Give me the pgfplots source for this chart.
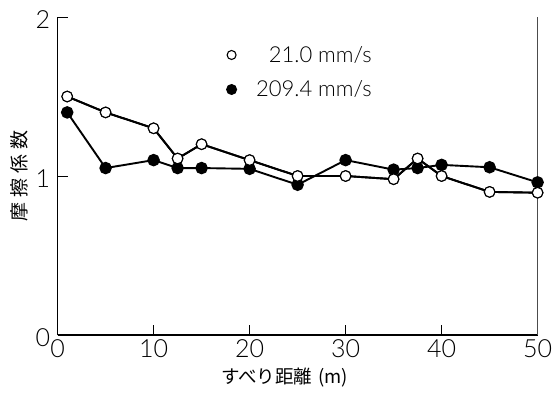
\documentclass[border=0pt]{standalone}
\usepackage{fontspec}
\usepackage{pgfplots}
\pgfplotsset{compat=1.18}
\setmainfont{Lato}[UprightFont={* Light}]
\newfontfamily\jp{Noto Sans CJK JP}

\pgfplotstableread{
x y
1 1.50
5 1.40
10 1.30
12.5 1.11
15 1.20
20 1.10
25 1.00
30 1.00
35 0.98
37.5 1.11
40 1.00
45 0.90
50 0.895
}\slow
\pgfplotstableread{
x y
1 1.40
5 1.05
10 1.10
12.5 1.05
15 1.05
20 1.045
25 0.945
30 1.10
35 1.04
37.5 1.05
40 1.07
45 1.055
50 0.96
}\fast

\begin{document}
\begin{tikzpicture}
\begin{axis}[
  scale only axis, width=480pt, height=318pt,
  xmin=0, xmax=50, ymin=0, ymax=2,
  axis x line*=bottom, axis y line*=left,
  axis line style={line width=1.6pt, black},
  xtick={0,10,...,50}, ytick={0,1,2},
  xtick align=inside, ytick align=inside, major tick length=10pt,
  tick style={line width=0.6pt, black},
  tick label style={font=\fontsize{25}{25}\selectfont},
  /pgf/number format/assume math mode=true,
  xticklabel style={yshift=-1pt},
  yticklabel style={yshift=-3pt, xshift=-4pt},
  xlabel={{\jp すべり距離\hspace{6pt}(m)}},
  xlabel style={font=\fontsize{18.5}{18.5}\selectfont, at={(axis description cs:0.473,-0.135)}, anchor=center},
  ylabel={{\jp 摩\hspace{5pt}擦\hspace{5pt}係\hspace{5pt}数}},
  ylabel style={font=\fontsize{19}{19}\selectfont, at={(axis description cs:-0.0803,0.5)}, anchor=center},
  legend style={draw=none, fill=none, at={(rel axis cs:0.352,0.915)}, anchor=north west,
    font=\fontsize{22}{22}\selectfont, row sep=13pt, inner sep=0pt},
  legend cell align=right,
  legend image code/.code={\draw[#1, mark size=4.5pt] plot coordinates {(0.17cm,0cm)};\path[draw=none,fill=none] (0,0) -- (0.96cm,0);},
  clip=false,
]
\coordinate (bl) at (rel axis cs:0,0);
\draw[line width=0.6pt, black!70] (rel axis cs:1,0) -- (rel axis cs:1,1);
\addplot[line width=1.9pt, black, mark=*, mark size=5.3pt, mark options={fill=white, line width=1.1pt}] table {\slow};
\addlegendentry{21.0 mm/s}
\addplot[line width=1.9pt, black, mark=*, mark size=5.3pt, mark options={fill=black}] table {\fast};
\addlegendentry{209.4 mm/s}
\addplot[line width=1.9pt, black, mark=*, mark size=5.3pt, mark options={fill=white, line width=1.1pt}, forget plot] table {\slow};
\end{axis}
\pgfresetboundingbox
\path (bl) ++(-57.6pt,-57pt) rectangle ++(553pt,392pt);
\end{tikzpicture}
\end{document}
